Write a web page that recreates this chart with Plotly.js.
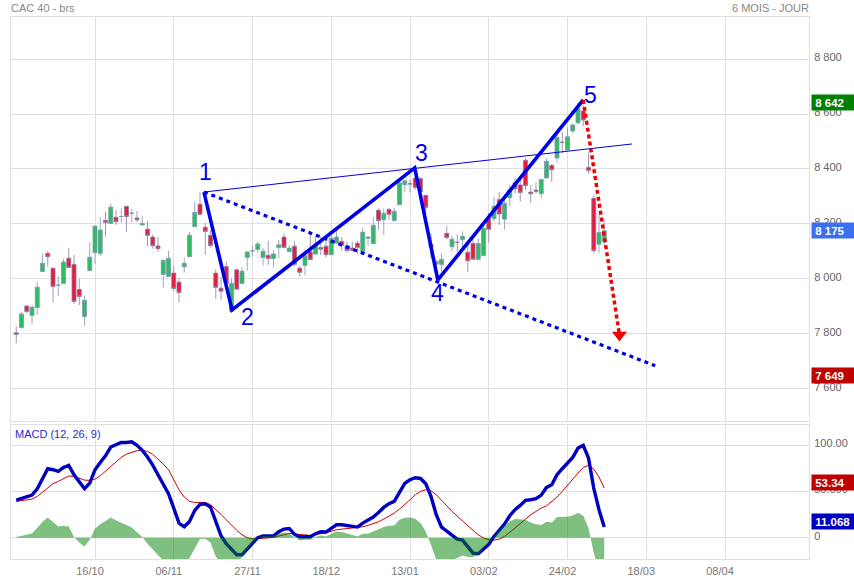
<!DOCTYPE html>
<html>
<head>
<meta charset="utf-8">
<script src="https://cdn.plot.ly/plotly-3.0.1.min.js"></script>
<style>html,body{margin:0;padding:0;background:#fff}</style>
</head>
<body>
<div id="chart" style="width:854px;height:580px"></div>
<script>
// Daily candles, one per session; x is the session index
const opens = [
  7804,7823,7901,7867,7896,8027,8093,8039,7977,7983,
  8075,8053,7962,7863,8030,8096,8092,8213,8202,8224,
  8227,8264,8239,8222,8196,8181,8152,8120,8016,8009,
  8021,7988,8044,8081,8190,8272,8188,8159,8021,7966,
  8045,7882,8033,7983,8078,8102,8107,8078,8086,8074,
  8114,8152,8099,8119,8039,8049,8099,8090,8114,8119,
  8088,8130,8137,8121,8112,8130,8099,8148,8128,8250,
  8215,8253,8212,8270,8343,8346,8366,8365,8304,8127,
  8054,8052,8166,8117,8133,8143,8097,8129,8071,8085,
  8220,8219,8289,8217,8295,8350,8342,8432,8316,8323,
  8310,8367,8413,8440,8497,8469,8538,8568,8611,8406,
  8293,8126,8135];
const highs = [
  7827,7880,7905,7903,7989,8091,8102,8039,8011,8073,
  8112,8087,8000,7938,8135,8192,8224,8244,8273,8251,
  8257,8264,8255,8247,8229,8211,8162,8153,8068,8102,
  8047,8002,8079,8171,8282,8315,8205,8178,8035,8008,
  8063,8002,8035,8042,8098,8120,8136,8112,8138,8105,
  8142,8164,8124,8138,8047,8108,8160,8152,8154,8136,
  8160,8178,8152,8136,8136,8138,8187,8152,8224,8256,
  8256,8258,8258,8365,8360,8362,8400,8370,8304,8166,
  8066,8093,8193,8158,8162,8173,8129,8148,8148,8202,
  8239,8299,8317,8309,8342,8369,8374,8439,8342,8350,
  8362,8439,8418,8535,8535,8551,8566,8642,8632,8460,
  8302,8236,8218];
const lows = [
  7766,7823,7875,7836,7869,8027,8045,7914,7938,7983,
  8041,7909,7905,7830,8030,8055,8084,8154,8200,8196,
  8205,8172,8205,8207,8196,8118,8110,8098,7968,8009,
  7954,7914,8023,8081,8190,8230,8088,8114,7929,7924,
  7980,7882,7960,7983,8030,8084,8093,8048,8051,8042,
  8075,8114,8099,8047,8009,8012,8070,8090,8087,8078,
  8088,8130,8103,8096,8103,8091,8099,8121,8128,8178,
  8160,8215,8212,8270,8317,8314,8325,8310,8236,8075,
  8008,8026,8145,8099,8098,8111,8026,8071,8071,8085,
  8132,8208,8196,8180,8263,8311,8281,8323,8277,8311,
  8295,8367,8352,8423,8457,8469,8529,8563,8556,8382,
  8093,8096,8117];
const closes = [
  7798,7872,7881,7897,7970,8057,8081,7972,7977,8061,
  8041,7918,7936,7922,8079,8192,8178,8205,8261,8208,
  8227,8227,8239,8215,8202,8158,8121,8110,8068,8075,
  7965,7950,8057,8159,8242,8235,8172,8121,7969,7955,
  7984,7984,7962,8028,8098,8102,8127,8101,8074,8091,
  8124,8114,8112,8053,8024,8085,8070,8124,8108,8088,
  8148,8152,8122,8103,8103,8114,8170,8152,8195,8212,
  8239,8235,8246,8350,8357,8346,8333,8316,8260,8115,
  8064,8071,8150,8144,8133,8155,8066,8071,8129,8184,
  8180,8264,8236,8275,8323,8328,8314,8339,8310,8319,
  8362,8428,8397,8515,8497,8517,8560,8620,8578,8394,
  8103,8169,8175];

// Elliott count drawn over the candles: [index], [price]
const waveX = [35.75, 41.1, 75.9, 80.3, 108];
const waveY = [8316, 7887, 8404, 7996, 8651];
const waveLabels = ["1", "2", "3", "4", "5"];
const labelX = [36.0, 44.0, 77.1, 80.3, 109.3];
const labelY = [8390, 7860, 8458, 7948, 8668];
const upperX = [35.75, 117.3];
const upperY = [8316, 8491];
const lowerX = [35.75, 121.7];
const lowerY = [8316, 7684];
const targetX = [108, 114.9];
const targetY = [8651, 7796];

const macdLine = [
  40.6,42.1,43.9,46.0,52.9,64.4,74.5,73.4,71.6,75.9,
  78.1,68.0,60.1,52.9,59.0,73.4,81.3,88.5,97.9,100.8,
  102.9,102.9,103.6,99.7,94.3,87.1,78.4,68.0,57.2,47.5,
  32.0,15.8,11.8,17.6,29.5,36.0,36.7,33.1,17.6,2.1,
  -6.5,-12.3,-18.4,-18.4,-12.3,-6.2,0,1.8,1.8,2.1,
  6.4,9.3,10.0,3.6,1.1,1.1,1.1,4.3,6.4,6.1,
  10.0,14.0,14.0,12.9,11.8,11.5,15.8,18.7,22.3,27.3,
  32.7,36.7,39.2,48.9,58.6,62.6,64.8,64.0,58.3,44.6,
  24.8,11.5,6.8,2.5,-1.5,-2.6,-10.1,-16.6,-17.3,-12.3,
  -7.2,1.4,7.5,14.7,23.7,30.2,34.9,40.3,41.0,42.1,
  46.0,54.3,57.2,68.0,74.5,80.6,86.7,96.8,99.7,86.0,
  53.6,30.2,11.5];
const signalLine = [
  39.2,39.9,41.0,41.7,44.6,48.9,54.0,58.3,60.8,64.0,
  66.6,66.2,64.0,62.2,61.9,63.3,66.9,71.6,76.3,81.3,
  86.7,90.3,92.1,93.9,94.3,93.2,90.0,84.9,79.5,73.4,
  62.6,51.8,43.9,39.2,38.1,38.1,38.1,35.6,30.9,25.2,
  19.4,13.6,7.9,3.2,0,-1.5,-1.1,-0.8,-0.4,0.3,
  1.8,3.2,4.6,3.9,3.6,2.8,2.5,3.2,4.3,5.0,
  6.8,8.6,9.3,10.0,10.4,10.8,11.8,13.3,15.1,17.2,
  20.1,23.4,26.6,30.9,35.6,41.0,46.4,50.0,51.8,50.7,
  46.4,41.0,34.5,28.4,23.0,17.6,12.9,7.9,3.2,-0.4,
  -2.2,-2.6,-1.5,1.4,5.7,10.4,15.1,20.1,24.8,28.4,
  32.0,34.5,38.8,43.9,50.0,57.2,63.3,69.8,75.9,78.1,
  74.1,65.5,53.6];
const macdHist = [
  0.7,1.8,2.8,4.6,10.4,17.2,21.9,16.9,12.2,12.9,
  12.2,0.7,-5.1,-9.4,-2.2,9.7,14.4,18.0,21.9,18.7,
  15.8,13.6,11.1,6.1,0.7,-6.5,-13.0,-19.5,-25.6,-31.0,
  -31.0,-31.0,-31.0,-22.0,-11.2,-1.5,-1.1,-5.1,-20.2,-27.4,
  -25.6,-23.8,-26.7,-20.9,-13.0,-5.8,0,1.8,1.8,2.1,
  4.3,5.7,4.3,0.7,-2.9,-2.2,-2.2,0.7,2.5,1.4,
  3.9,6.8,6.1,4.3,2.5,1.4,4.3,4.3,6.8,9.3,
  11.5,12.9,13.3,19.4,21.6,21.9,20.5,15.8,6.8,-7.6,
  -23.8,-25.6,-25.6,-24.5,-22.0,-19.1,-20.9,-20.9,-18.4,-11.2,
  -5.1,0.7,7.9,12.9,17.6,20.1,20.1,19.4,16.5,14.4,
  13.6,17.2,16.5,22.3,22.6,22.6,24.0,26.9,23.6,10.4,
  -16.6,-34.6,-41.8];

const dateTicks = [15, 30, 45, 60, 75, 90, 105, 120, 135];
const dateLabels = ["16/10", "06/11", "27/11", "18/12", "13/01", "03/02", "24/02", "18/03", "08/04"];
const priceTicks = [7600, 7800, 8000, 8200, 8400, 8600, 8800];
const priceLabels = ["7 600", "7 800", "8 000", "8 200", "8 400", "8 600", "8 800"];
const macdTicks = [0, 50, 100];
const macdLabels = ["0", "50.000", "100.00"];

const GRID = "#e0e0e0";
const BLUE = "#0000e6";
const sessions = opens.map((_, i) => i);

function plainLine(x, y, color, width, dash, extra) {
  return Object.assign({
    x, y, type: "scatter", mode: "lines",
    line: { color, width, dash }, hoverinfo: "skip",
  }, extra);
}

// Price tag stuck on the right of the frame
function tag(text, y, yref, color, yshift) {
  return {
    text, xref: "paper", x: 1.0025, xanchor: "left", yref, y, yshift: yshift || 0,
    showarrow: false, bgcolor: color, width: 43, height: 15, align: "left", borderpad: 0,
    font: { family: "Liberation Sans", size: 11.5, color: "#fff", weight: "bold" },
  };
}

function caption(text, x, anchor, y, color, xshift) {
  return {
    text, xref: "paper", x, xanchor: anchor, yref: "paper", y, yanchor: "middle", xshift,
    showarrow: false, font: { family: "Liberation Sans", size: 11, color },
  };
}

const traces = [
  {
    x: sessions, open: opens, high: highs, low: lows, close: closes,
    type: "candlestick", xaxis: "x", yaxis: "y", whiskerwidth: 0,
    increasing: { line: { color: "#7f97b2", width: 0.8 }, fillcolor: "#2dbd60" },
    decreasing: { line: { color: "#8a7ea0", width: 0.8 }, fillcolor: "#ea1a40" },
    hoverinfo: "skip",
  },
  plainLine(upperX, upperY, BLUE, 1, "solid"),
  plainLine(lowerX, lowerY, BLUE, 3.2, "4px 4px"),
  plainLine(waveX, waveY, BLUE, 3.6, "solid"),
  plainLine(targetX, targetY, "#f00000", 3.5, "4px 3px"),
  {
    x: targetX.slice(1), y: targetY.slice(1), type: "scatter", mode: "markers",
    marker: { symbol: "triangle-down", size: 13, color: "#f00000" }, hoverinfo: "skip",
  },
  plainLine(sessions, signalLine, "#d00000", 1, "solid", { xaxis: "x2", yaxis: "y2" }),
  plainLine(sessions, macdLine, "#0000c0", 3.4, "solid", { xaxis: "x2", yaxis: "y2" }),
  {
    x: sessions, y: macdHist, type: "scatter", mode: "lines", xaxis: "x2", yaxis: "y2",
    fill: "tozeroy", fillcolor: "rgba(0,128,0,0.5)", line: { width: 0, color: "rgba(0,128,0,0)" },
    hoverinfo: "skip",
  },
];

const sharedX = {
  range: [-1.0, 151.0], tickmode: "array", tickvals: dateTicks, ticktext: dateLabels,
  showgrid: true, gridcolor: GRID, gridwidth: 1, zeroline: false,
  showline: true, linecolor: GRID, linewidth: 1, mirror: true, ticks: "",
  rangeslider: { visible: false },
};

const layout = {
  width: 854, height: 580,
  margin: { l: 11, r: 45, t: 17.3, b: 20.7, pad: 0 },
  paper_bgcolor: "#fff", plot_bgcolor: "#fff",
  showlegend: false,
  boxgap: 0.2, boxgroupgap: 0.05, boxmode: "overlay",
  font: { family: "Liberation Sans", size: 11, color: "#666" },
  xaxis: Object.assign({}, sharedX, { domain: [0, 1], anchor: "y", showticklabels: false }),
  xaxis2: Object.assign({}, sharedX, {
    domain: [0, 1], anchor: "y2", ticklabelshift: -5, ticklabelstandoff: 2,
    tickfont: { family: "Liberation Sans", size: 11, color: "#777" },
  }),
  yaxis: {
    domain: [0.2552, 1], anchor: "x", side: "right", range: [7484, 8953],
    tickmode: "array", tickvals: priceTicks, ticktext: priceLabels,
    ticklabelshift: -2, ticklabelstandoff: 2,
    showgrid: true, gridcolor: GRID, zeroline: false,
    showline: true, linecolor: GRID, mirror: true, ticks: "",
    tickfont: { family: "Liberation Sans", size: 11, color: "#666" },
  },
  yaxis2: {
    domain: [0, 0.2472], anchor: "x2", side: "right", range: [-23, 121.7],
    tickmode: "array", tickvals: macdTicks, ticktext: macdLabels,
    ticklabelshift: -2, ticklabelstandoff: 2,
    showgrid: true, gridcolor: GRID, zeroline: false,
    showline: true, linecolor: GRID, mirror: true, ticks: "",
    tickfont: { family: "Liberation Sans", size: 11, color: "#666" },
  },
  annotations: [
    caption("CAC 40 - brs", 0, "left", 1.0168, "#888", -2),
    caption("6 MOIS - JOUR", 1, "right", 1.0168, "#888", 2),
    caption("MACD (12, 26, 9)", 0.004, "left", 0.2305, "#2a2ac8", -1),
    tag("&nbsp;8 642", 8642, "y", "#008000"),
    tag("&nbsp;8 175", 8175, "y", "#3c6ff0"),
    tag("&nbsp;7 649", 7649, "y", "#c00000"),
    tag("&nbsp;53.34", 53.34, "y2", "#c00000", 6),
    tag("&nbsp;11.068", 11.068, "y2", "#0000c0", 6),
  ].concat(waveLabels.map((t, i) => ({
    text: t, x: labelX[i], y: labelY[i], xref: "x", yref: "y", showarrow: false,
    font: { family: "Liberation Sans", size: 23, color: BLUE },
  }))),
};

Plotly.newPlot("chart", traces, layout, { displayModeBar: false, staticPlot: true });
</script>
</body>
</html>
